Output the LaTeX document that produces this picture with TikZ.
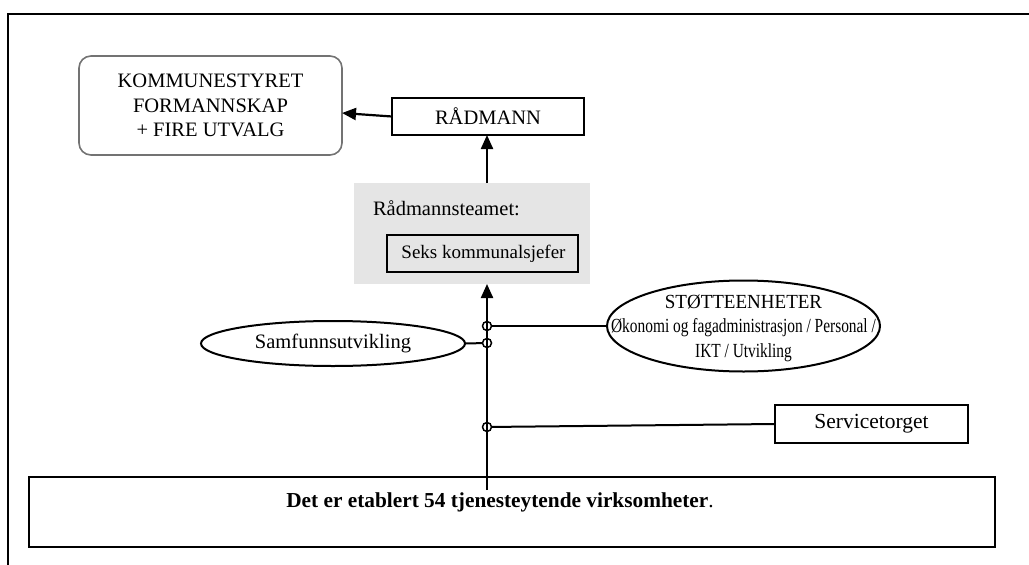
\documentclass[tikz,border=0pt]{standalone}
\usepackage{fontspec}
\setmainfont{Liberation Serif}
\usetikzlibrary{arrows.meta,shapes.geometric}
\begin{document}
\begin{tikzpicture}[x=1pt,y=-1pt,
  every node/.style={font=\fontsize{20.5}{24.5}\selectfont, inner sep=0pt, outer sep=0pt},
  box/.style={draw, line width=2pt, rectangle, anchor=north west},
  oval/.style={draw, line width=2pt, ellipse, inner sep=0pt},
  conn/.style={line width=2pt},
  arr/.style={line width=2.2pt, -{Triangle[length=14pt,width=12pt]}},
  joint/.style={draw, line width=1.5pt, circle, minimum size=9pt}
]
\useasboundingbox (0,0) rectangle (1029,565);

% page frame (left and top edge)
\draw[line width=2pt] (8,565) -- (8,14) -- (1029,14);

% political level
\node[draw=black!55, line width=1.6pt, rounded corners=12pt, anchor=north west,
      minimum width=263pt, minimum height=99pt, align=center] (komm) at (79,56)
      {KOMMUNESTYRET\\FORMANNSKAP\\+ FIRE UTVALG};

\node[box, minimum width=192pt, minimum height=37pt] (radmann) at (392,98) {};
\node at (radmann.center) {RÅDMANN};

% management team
\node[fill=black!10, anchor=north west, minimum width=236pt, minimum height=101pt] (team) at (354,183) {};
\node[anchor=west] (teamlbl) at (373,208) {Rådmannsteamet:};
\node[box, minimum width=191pt, minimum height=37pt] (seks) at (387,235) {};
\node[font=\fontsize{19}{23}\selectfont] at ([xshift=1pt]seks.center) {Seks kommunalsjefer};

% units
\node[oval, minimum width=273pt, minimum height=91pt] (stotte) at (743.5,326) {};
\node[align=center, font=\fontsize{20}{24.5}\selectfont] at (743.5,328)
  {\scalebox{0.95}[1]{STØTTEENHETER}\\
   \scalebox{0.77}[1]{Økonomi og fagadministrasjon / Personal /}\\
   \scalebox{0.77}[1]{IKT / Utvikling}};

\node[oval, minimum width=264pt, minimum height=45pt] (samf) at (333,343.5) {Samfunnsutvikling};

\node[box, minimum width=193pt, minimum height=38pt] (service) at (775,405) {};
\node[font=\fontsize{21.5}{25}\selectfont] at (service.center) {Servicetorget};

\node[box, minimum width=966pt, minimum height=70pt] (virk) at (29,477) {};
\node at (500,502) {\scalebox{1.04}{\textbf{Det er etablert 54 tjenesteytende virksomheter}.}};

% trunk line with joints
\coordinate (trunk) at (487,490);
\node[joint] (j1) at (487,326) {};
\node[joint] (j2) at (487,343) {};
\node[joint] (j3) at (487,427) {};

\draw[arr] (trunk) -- (trunk |- team.south);
\draw[conn] (j1) -- (stotte.west);
\draw[conn] (samf.east) -- (j2);
\draw[conn] (j3) -- (service.west);

% upward reporting
\draw[arr] (radmann.south -| trunk) ++(0,48) -- (radmann.south -| trunk);
\draw[arr] (radmann.west) -- ([yshift=-7.5pt]komm.east);
\end{tikzpicture}
\end{document}
